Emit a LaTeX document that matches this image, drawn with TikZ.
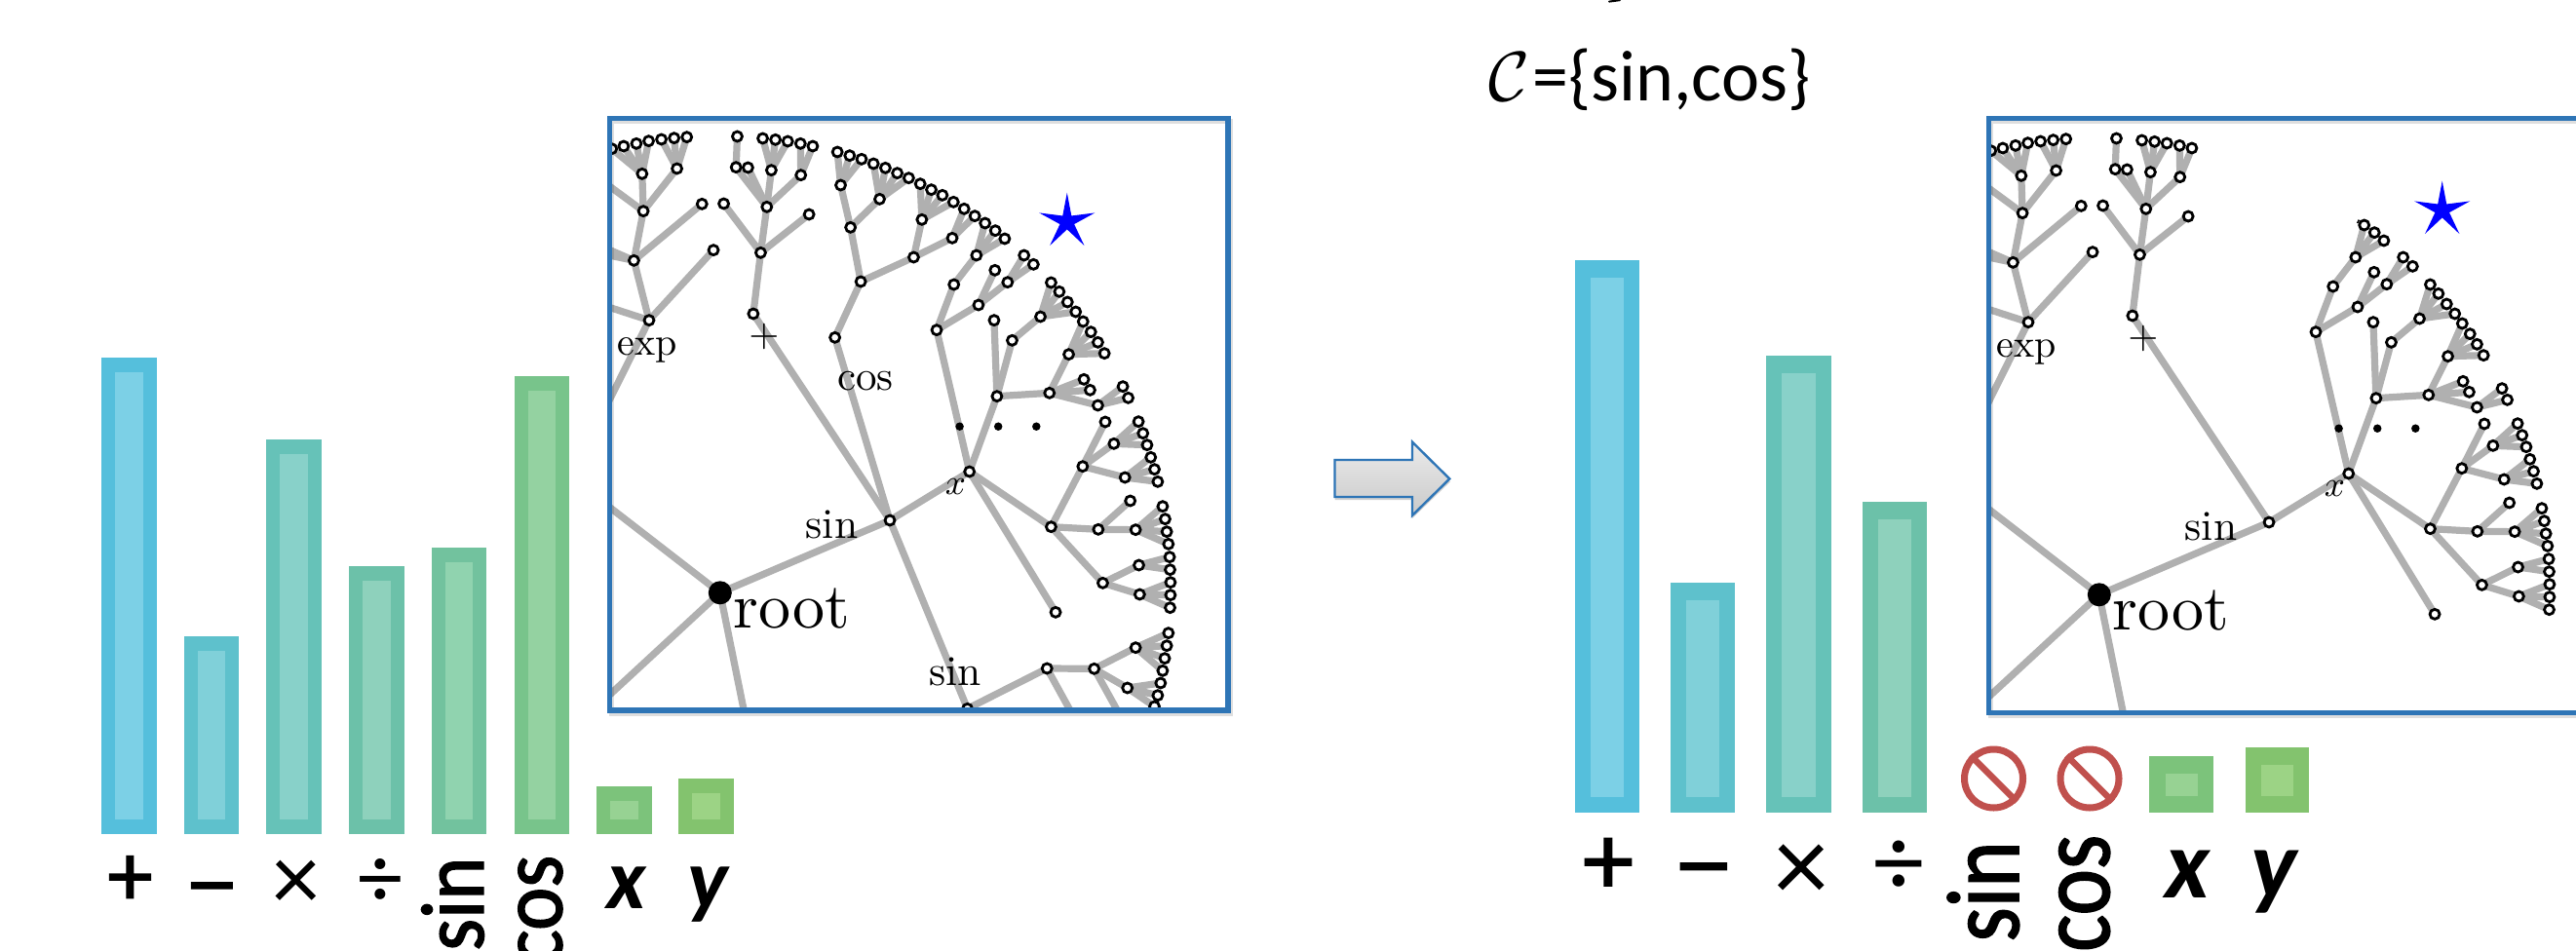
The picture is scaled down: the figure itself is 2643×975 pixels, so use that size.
\documentclass[tikz,border=0pt]{standalone}
\usepackage{fontspec}
\usepackage{graphicx}
\usetikzlibrary{shapes.geometric}
\newfontfamily\lblfont{Carlito}
\newfontfamily\lblsemi[FakeBold=1.6]{Carlito}
\definecolor{edgegray}{HTML}{B0B0B0}
\definecolor{framec}{HTML}{2E75B6}
\definecolor{noc}{HTML}{C0504D}
\definecolor{aO}{HTML}{55BFDC}\definecolor{aI}{HTML}{7CD0E6}
\definecolor{bO}{HTML}{5EC1CC}\definecolor{bI}{HTML}{80D0D9}
\definecolor{cO}{HTML}{66C2B8}\definecolor{cI}{HTML}{88D1C9}
\definecolor{dO}{HTML}{6CC1A9}\definecolor{dI}{HTML}{8ED1BC}
\definecolor{eO}{HTML}{72C29E}\definecolor{eI}{HTML}{90D3AF}
\definecolor{fO}{HTML}{78C48B}\definecolor{fI}{HTML}{94D2A1}
\definecolor{gO}{HTML}{7CC37B}\definecolor{gI}{HTML}{97D293}
\definecolor{hO}{HTML}{83C36E}\definecolor{hI}{HTML}{9CD385}
\tikzset{
  edge/.style={draw=edgegray,line width=7.2pt},
  leaf/.style={circle,draw=black,fill=white,line width=2.8pt,minimum size=10pt,inner sep=0pt},
  rootdot/.style={circle,fill=black,minimum size=24pt,inner sep=0pt},
  dotn/.style={circle,fill=black,minimum size=8.5pt,inner sep=0pt},
  frame/.style={draw=framec,line width=5.5pt},
  frameshadow/.style={draw=black,line width=5pt,opacity=0.13},
  lm/.style={inner sep=0pt,anchor=base},
  sym/.style={inner sep=0pt,font=\lblsemi\fontsize{#1}{#1}\selectfont},
  symthin/.style={inner sep=0pt,font=\lblfont\fontsize{#1}{#1}\selectfont},
  varl/.style={inner sep=0pt,anchor=base,font=\lblfont\bfseries\itshape\fontsize{#1}{#1}\selectfont},
  rotl/.style={inner sep=0pt,rotate=90,anchor=base west,font=\lblsemi\fontsize{#1}{#1}\selectfont},
  starn/.style={star,star points=5,star point ratio=3.9,fill=blue,inner sep=0pt,minimum size=60pt},
  nosign/.style={circle,draw=noc,line width=7pt,minimum size=60pt,inner sep=0pt},
  noslash/.style={draw=noc,line width=6.5pt},
}
\newcommand\cmtext[2]{\scalebox{#1}{\fontsize{10}{12}\selectfont #2}}
% two passes: edges first, circles above them
\newcommand\tnodeA[4]{\coordinate (\pfx#2) at (#3,#4); \draw[edge] (\pfx#1) -- (\pfx#2);}
\newcommand\tnodeB[4]{\node[leaf] (\pfx n#2) at (\pfx#2) {};}
\newcommand\toffA[4]{\coordinate (\pfx#2) at (#3,#4); \draw[edge] (\pfx#1) -- (\pfx#2);}
\newcommand\toffB[4]{}
\newcommand\tleavesA[2]{\foreach \xx/\yy [count=\ii] in {#2}{\coordinate (\pfx#1-\ii) at (\xx,\yy); \draw[edge] (\pfx#1) -- (\pfx#1-\ii);}}
\newcommand\tleavesB[2]{\foreach \xx/\yy [count=\ii] in {#2}{\node[leaf] (\pfx n#1-\ii) at (\pfx#1-\ii) {};}}
\newcommand\passA{\let\tnode\tnodeA\let\toff\toffA\let\tleaves\tleavesA}
\newcommand\passB{\let\tnode\tnodeB\let\toff\toffB\let\tleaves\tleavesB}
\newcommand\treeCommon{%
  \toff{root}{ra}{-55}{1142}
  \toff{root}{rb}{-40}{1899}
  \toff{root}{rc}{379}{1950}
  \tnode{root}{sa}{720}{1272}
  % exp branch
  \tnode{Eo}{E}{133}{656}
  \toff{E}{Ea}{-40}{585}
  \tleaves{E}{290/440}
  \tnode{E}{Eb}{96}{472}
  \toff{Eb}{Ec}{-10}{414}
  \toff{Eb}{Ed}{-10}{444}
  \tleaves{Eb}{262/298}
  \tnode{Eb}{Ee}{119}{320}
  \toff{Ee}{Ef}{-10}{200}
  \tnode{Ee}{Eg}{116}{205}
  \tnode{Ee}{Eh}{201}{189}
  \tleaves{Eg}{42/128,71/120,102/112,132/104}
  \tleaves{Eh}{163/99,194/95,225/92}
  % plus branch
  \tnode{sa}{P}{387}{636}
  \tnode{P}{Pa}{405}{448}
  \tleaves{Pa}{315/297,523/330}
  \tnode{Pa}{Pb}{420}{307}
  \tnode{Pb}{Pc}{345}{185}
  \tleaves{Pc}{348/90}
  \tleaves{Pb}{374/186}
  \tnode{Pb}{Pd}{431}{194}
  \tnode{Pb}{Pe}{503}{209}
  \tleaves{Pd}{410/96,441/100,471/105}
  \tleaves{Pe}{502/112,532/120}
  % x branch
  \tnode{sa}{X}{914}{1122}
  \tnode{X}{Xa}{834}{686}
  \tnode{X}{Xb}{981}{890}
  \tnode{X}{Xc}{1113}{1292}
  \tleaves{X}{1124/1555}
  \tnode{Xa}{Xd}{876}{546}
  \tnode{Xd}{Xe}{931}{456}
  \tleaves{Xe}{952/357,977/380,1000/405}
  \tnode{Xa}{Xf}{936}{609}
  \tleaves{Xf}{976/502}
  \tnode{Xf}{Xg}{1007}{539}
  \tleaves{Xg}{1047/456,1070/484}
  \tleaves{Xb}{974/656}
  \tnode{Xb}{Xh}{1018}{718}
  \tnode{Xh}{Xi}{1087}{645}
  \tleaves{Xi}{1113/540,1133/568,1153/600,1173/630}
  \tnode{Xb}{Xj}{1109}{880}
  \tnode{Xj}{Xk}{1156}{761}
  \tleaves{Xk}{1191/660,1210/692,1227/724,1243/758}
  \tleaves{Xj}{1193/838,1208/871}
  \tnode{Xj}{Xl}{1227}{918}
  \tleaves{Xl}{1288/860,1301/895}
  \tnode{Xc}{Xm}{1190}{1106}
  \tleaves{Xm}{1245/969}
  \tnode{Xm}{Xn}{1266}{1036}
  \tleaves{Xn}{1326/968,1337/1004,1347/1040}
  \tnode{Xm}{Xo}{1293}{1140}
  \tleaves{Xo}{1356/1078,1365/1115,1373/1153}
  \tnode{Xc}{Xp}{1228}{1300}
  \tleaves{Xp}{1306/1212}
  \tnode{Xp}{Xq}{1319}{1301}
  \tleaves{Xq}{1385/1229,1391/1268,1395/1307,1399/1345}
  \tnode{Xc}{Xr}{1239}{1465}
  \tnode{Xr}{Xs}{1327}{1410}
  \tleaves{Xs}{1402/1385,1403/1424}
  \tnode{Xr}{Xt}{1329}{1500}
  \tleaves{Xt}{1404/1463,1404/1502,1403/1541}
}
\newcommand\treeExtra{%
  % cos branch
  \tnode{sa}{C}{586}{709}
  \tnode{C}{Ca}{649}{537}
  \tnode{Ca}{Cb}{624}{370}
  \tnode{Ca}{Cc}{778}{462}
  \tnode{Cb}{Cd}{600}{240}
  \tnode{Cb}{Ce}{695}{283}
  \tleaves{Cd}{592/138,622/149,651/160}
  \tleaves{Ce}{680/174,709/187,738/203,766/218}
  \tnode{Cc}{Cf}{798}{346}
  \tnode{Cc}{Cg}{872}{403}
  \tleaves{Cf}{794/236,821/254,848/271,875/292}
  \tleaves{Cg}{901/313,927/335}
  % lower sin branch
  \tnode{sa}{S}{909}{1852}
  \tnode{S}{Sa}{1103}{1728}
  \toff{Sa}{Sb}{1200}{1950}
  \tnode{Sa}{Sc}{1218}{1729}
  \toff{Sc}{Sd}{1315}{1950}
  \tnode{Sc}{Se}{1319}{1664}
  \tnode{Sc}{Sf}{1299}{1788}
  \tleaves{Se}{1399/1619,1395/1658,1390/1697,1385/1735}
  \tleaves{Sf}{1380/1773,1373/1811,1365/1845}
}
\newcommand\treeLabels{%
  \node[lm] (\pfx lexp) at (664,364) {\cmtext{4}{exp}};
  \node[inner sep=0pt] (\pfx lplus) at (783.8,345) {\scalebox{4}{$+$}};
  \node[lm] (\pfx lroot) at (812.5,644) {\cmtext{6.6}{root}};
  \node[lm] (\pfx lsina) at (853.5,552) {\cmtext{4.35}{sin}};
  \node[inner sep=0pt] (\pfx lx) at (980.4,500) {\scalebox{3.7}{$x$}};
  \node[dotn] (\pfx da) at (984.6,437.7) {};
  \node[dotn] (\pfx db) at (1024.2,437.7) {};
  \node[dotn] (\pfx dc) at (1063.3,437.7) {};
}
\newcommand\treeLabelsExtra{%
  \node[lm] (\pfx lcos) at (888,400.7) {\cmtext{4.3}{cos}};
  \node[lm] (\pfx lsinb) at (980.4,703) {\cmtext{4.35}{sin}};
}
\newcommand\mybar[9]{%
  \fill[#5] (#1,#3) rectangle (#2,#4);
  \fill[#6] ({#1+#7},{#3+#8}) rectangle ({#2-#7},{#4-#9});
}
\begin{document}
\begin{tikzpicture}[x=1pt,y=-1pt]
\useasboundingbox (0,0) rectangle (2643,975);
\clip (0,0) rectangle (2643,975);
% cut-off descender at the top edge
\draw[line width=2pt,line cap=round] (1651,1.6) -- (1662,0.2);
% ---------- left bars
\mybar{104}{160.5}{366.7}{856.4}{aO}{aI}{14}{15}{15}
\mybar{188.6}{245}{652.7}{856.4}{bO}{bI}{14}{15}{15}
\mybar{273}{330}{451.4}{856.4}{cO}{cI}{14}{15}{15}
\mybar{358}{414.5}{581}{856.4}{dO}{dI}{14}{15}{15}
\mybar{442.5}{499}{561.5}{856.4}{eO}{eI}{14}{15}{15}
\mybar{527.5}{583.5}{385.8}{856.4}{fO}{fI}{14}{15}{15}
\mybar{611.7}{668.5}{806.6}{856.4}{gO}{gI}{14}{15.4}{15}
\mybar{696}{752.5}{799}{856.4}{hO}{hI}{14}{15.4}{15}
\node[sym=92] (lplus) at (133.5,904) {+};
\node[sym=92] (lminus) at (217.5,922) {\scalebox{1.2}[1]{−}};
\node[symthin=98] (ltimes) at (304,909) {×};
\node[symthin=92] (ldiv) at (390,906) {÷};
\node[rotl=84] (lsin) at (496,976) {\scalebox{1}[1.1]{sin}};
\node[rotl=84] (lcos) at (576.5,990) {\scalebox{1}[1.1]{cos}};
\node[varl=88] (lx) at (643,932) {x};
\node[varl=88] (ly) at (726,932) {y};
% ---------- left tree
\def\pfx{L}
\begin{scope}
  \clip (628,124.5) rectangle (1257.5,726.5);
  \begin{scope}[shift={(610,110)},x=0.42088pt,y=-0.33333pt]
    \coordinate (Lroot) at (306,1495);
    \coordinate (LEo) at (-20,1045);
    \passA \treeCommon \treeExtra
    \node[rootdot] (Lnroot) at (Lroot) {};
    \passB \treeCommon \treeExtra
  \end{scope}
\end{scope}
\treeLabels\treeLabelsExtra
\draw[frameshadow] (627.6,124.7) rectangle (1262,732);
\draw[frame] (625.6,121.7) rectangle (1260,729);
\node[starn] (Lstar) at (1094.8,227.7) {};
% ---------- arrow
\fill[black,opacity=0.18] (1369.5,475) -- (1449,475) -- (1449,456.6) -- (1488,494.4) -- (1449,532) -- (1449,513) -- (1369.5,513) -- cycle;
\path[draw=framec,line width=2.4pt,top color=gray!16,bottom color=gray!42,line join=miter]
  (1369.5,472) -- (1449,472) -- (1449,453.6) -- (1487.3,491.4) -- (1449,529) -- (1449,510) -- (1369.5,510) -- cycle;
% ---------- formula
\node[inner sep=0pt,anchor=base west,font=\lblfont\fontsize{74}{74}\selectfont] (cset) at (1572,103) {=\{sin,cos\}};
\node[inner sep=0pt,anchor=base west] (calc) at (1527,103) {\scalebox{7.2}{$\mathcal{C}$}};
% ---------- right bars
\mybar{1616}{1682}{266.7}{834}{aO}{aI}{16}{18}{16}
\mybar{1714.3}{1780}{598}{834}{bO}{bI}{16}{18}{16}
\mybar{1812.3}{1878.5}{364.7}{834}{cO}{cI}{16}{18}{16}
\mybar{1910.6}{1976.8}{515}{834}{dO}{dI}{16}{18}{16}
\mybar{2205.4}{2271.3}{776.3}{834}{gO}{gI}{16.5}{17.7}{17.3}
\mybar{2303.5}{2369}{767.3}{834}{hO}{hI}{16.5}{17.7}{17.3}
\node[nosign] (nosin) at (2045.5,799) {};
\node[nosign] (nocos) at (2144,799) {};
\draw[noslash] (nosin.135) -- (nosin.-45);
\draw[noslash] (nocos.135) -- (nocos.-45);
\node[sym=104] (rplus) at (1650,889) {+};
\node[sym=104] (rminus) at (1748,904) {\scalebox{1.2}[1]{−}};
\node[symthin=112] (rtimes) at (1848,896) {×};
\node[symthin=104] (rdiv) at (1948,891.7) {÷};
\node[rotl=90] (rsin) at (2071,966.7) {\scalebox{1}[1.18]{sin}};
\node[rotl=90] (rcos) at (2164,977) {\scalebox{1}[1.18]{cos}};
\node[varl=100] (rx) at (2244,921.7) {x};
\node[varl=100] (ry) at (2333,921.7) {y};
% ---------- right tree
\def\pfx{R}
\begin{scope}
  \clip (2043,124) rectangle (2660,729);
  \begin{scope}[shift={(2025,112)},x=0.42088pt,y=-0.33333pt]
    \coordinate (Rroot) at (306,1495);
    \coordinate (REo) at (-20,1045);
    \passA \treeCommon
    \node[rootdot] (Rnroot) at (Rroot) {};
    \passB \treeCommon
  \end{scope}
\end{scope}
\begin{scope}[shift={(1415,2)}]
  \treeLabels
\end{scope}
\draw[frameshadow] (2042.5,124.5) rectangle (2670,734.5);
\draw[frame] (2040.5,121.5) rectangle (2668,731.5);
\node[starn] (Rstar) at (2505.7,215.7) {};
\draw[line width=1.6pt] (2418.6,229) -- (2420.4,225.6);
\end{tikzpicture}
\end{document}
